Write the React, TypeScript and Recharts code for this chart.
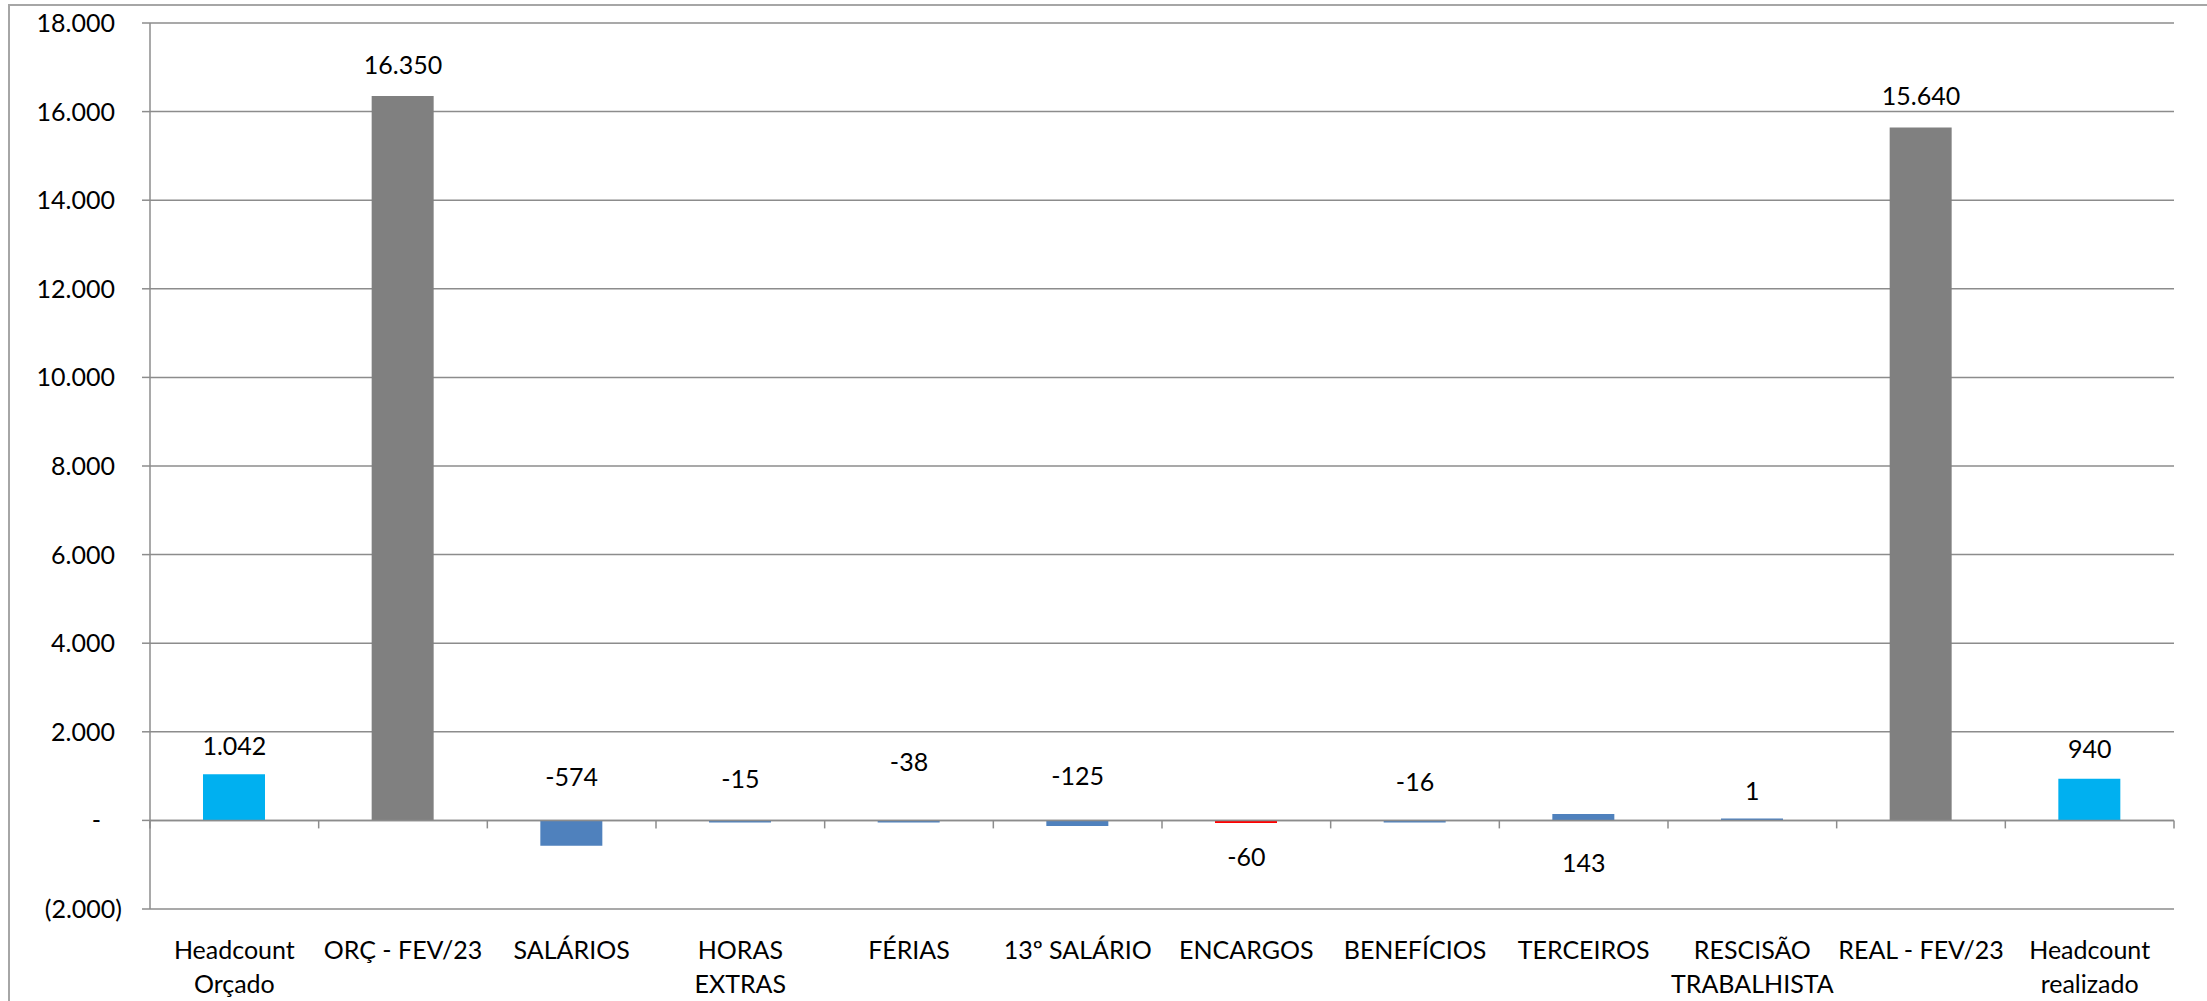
import React from 'react';
import {
  Bar,
  CartesianGrid,
  Cell,
  ComposedChart,
  Line,
  ReferenceLine,
  XAxis,
  YAxis,
} from 'recharts';

const categories = [
  'Headcount\nOrçado',
  'ORÇ - FEV/23',
  'SALÁRIOS',
  'HORAS\nEXTRAS',
  'FÉRIAS',
  '13º SALÁRIO',
  'ENCARGOS',
  'BENEFÍCIOS',
  'TERCEIROS',
  'RESCISÃO\nTRABALHISTA',
  'REAL - FEV/23',
  'Headcount\nrealizado',
];
const values = [1042, 16350, -574, -15, -38, -125, -60, -16, 143, 1, 15640, 940];
// where each value label sits (in axis units)
const labelAt = [1690, 17050, 990, 940, 1320, 1010, -820, 870, -970, 670, 16350, 1620];
const barColors = [
  '#00B0F0',
  '#808080',
  '#4F81BD',
  '#4F81BD',
  '#4F81BD',
  '#4F81BD',
  '#FF0000',
  '#4F81BD',
  '#4F81BD',
  '#4F81BD',
  '#808080',
  '#00B0F0',
];
const yTicks = [-2000, 0, 2000, 4000, 6000, 8000, 10000, 12000, 14000, 16000, 18000];

const data = categories.map((name, i) => ({ name, value: values[i], labelAt: labelAt[i] }));

const FONT = 'Lato, "Liberation Sans", sans-serif';
const GRID = '#8c8c8c';

const thousands = (n: number) => String(Math.abs(n)).replace(/\B(?=(\d{3})+(?!\d))/g, '.');
const fmtLabel = (n: number) => (n < 0 ? '-' : '') + thousands(n);

const YTick = (props: any) => {
  const { x, y, payload } = props;
  const v = payload.value as number;
  let text = thousands(v);
  let dx = 0;
  if (v === 0) {
    text = '-';
    dx = -14;
  } else if (v < 0) {
    text = `(${thousands(v)})`;
    dx = 7;
  }
  return (
    <text x={x + dx} y={y} dy={9} textAnchor="end" fill="#000" fontSize={25} fontFamily={FONT}>
      {text}
    </text>
  );
};

const XTick = (props: any) => {
  const { x, y, payload } = props;
  const lines = String(payload.value).split('\n');
  return (
    <text x={x} y={y} textAnchor="middle" fill="#000" fontSize={25} fontFamily={FONT}>
      {lines.map((l, i) => (
        <tspan key={i} x={x} dy={i === 0 ? 50 : 34}>
          {l}
        </tspan>
      ))}
    </text>
  );
};

const ValueLabel = (props: any) => {
  const { cx, cy, index, payload } = props;
  if (cx == null || cy == null) return <g key={`lbl-${index}`} />;
  return (
    <text
      key={`lbl-${index}`}
      x={cx}
      y={cy}
      dy={9}
      textAnchor="middle"
      fill="#000"
      fontSize={25}
      fontFamily={FONT}
    >
      {fmtLabel(payload.value)}
    </text>
  );
};

// zero line with the category tick marks hanging under it
const ZeroAxis = (props: any) => {
  const { x1, x2, y1 } = props;
  const n = categories.length;
  const step = (x2 - x1) / n;
  const marks = [];
  for (let i = 0; i <= n; i++) {
    const tx = x1 + step * i;
    marks.push(<line key={i} x1={tx} x2={tx} y1={y1} y2={y1 + 8} stroke={GRID} strokeWidth={1.5} />);
  }
  return (
    <g>
      <line x1={x1} x2={x2} y1={y1} y2={y1} stroke={GRID} strokeWidth={1.5} />
      {marks}
    </g>
  );
};

export default function App() {
  return (
    <div
      style={{
        position: 'absolute',
        left: 0,
        top: 0,
        width: 2207,
        height: 1001,
        overflow: 'hidden',
        background: '#fff',
      }}
    >
      <div
        style={{
          position: 'absolute',
          left: 8,
          top: 4,
          width: 2400,
          height: 1200,
          borderLeft: '2px solid #a6a6a6',
          borderTop: '2px solid #a6a6a6',
        }}
      />
      <div style={{ position: 'absolute', left: 0, top: 0 }}>
        <ComposedChart
          width={2207}
          height={1001}
          data={data}
          margin={{ top: 23, right: 33, left: 0, bottom: 0 }}
          barSize={62}
        >
          <CartesianGrid vertical={false} stroke={GRID} strokeWidth={1.5} />
          <XAxis
            dataKey="name"
            interval={0}
            axisLine={false}
            tickLine={false}
            tickSize={0}
            tickMargin={0}
            height={92}
            tick={<XTick />}
          />
          <YAxis
            type="number"
            domain={[-2000, 18000]}
            ticks={yTicks}
            interval={0}
            width={150}
            tickSize={8}
            tickMargin={27}
            axisLine={{ stroke: GRID, strokeWidth: 1.5 }}
            tickLine={{ stroke: GRID, strokeWidth: 1.5 }}
            tick={<YTick />}
          />
          <ReferenceLine y={0} shape={<ZeroAxis />} />
          <Bar dataKey="value" isAnimationActive={false} minPointSize={2}>
            {data.map((d, i) => (
              <Cell key={d.name} fill={barColors[i]} />
            ))}
          </Bar>
          <Line
            dataKey="labelAt"
            stroke="none"
            dot={ValueLabel}
            activeDot={false}
            isAnimationActive={false}
            legendType="none"
          />
        </ComposedChart>
      </div>
    </div>
  );
}
